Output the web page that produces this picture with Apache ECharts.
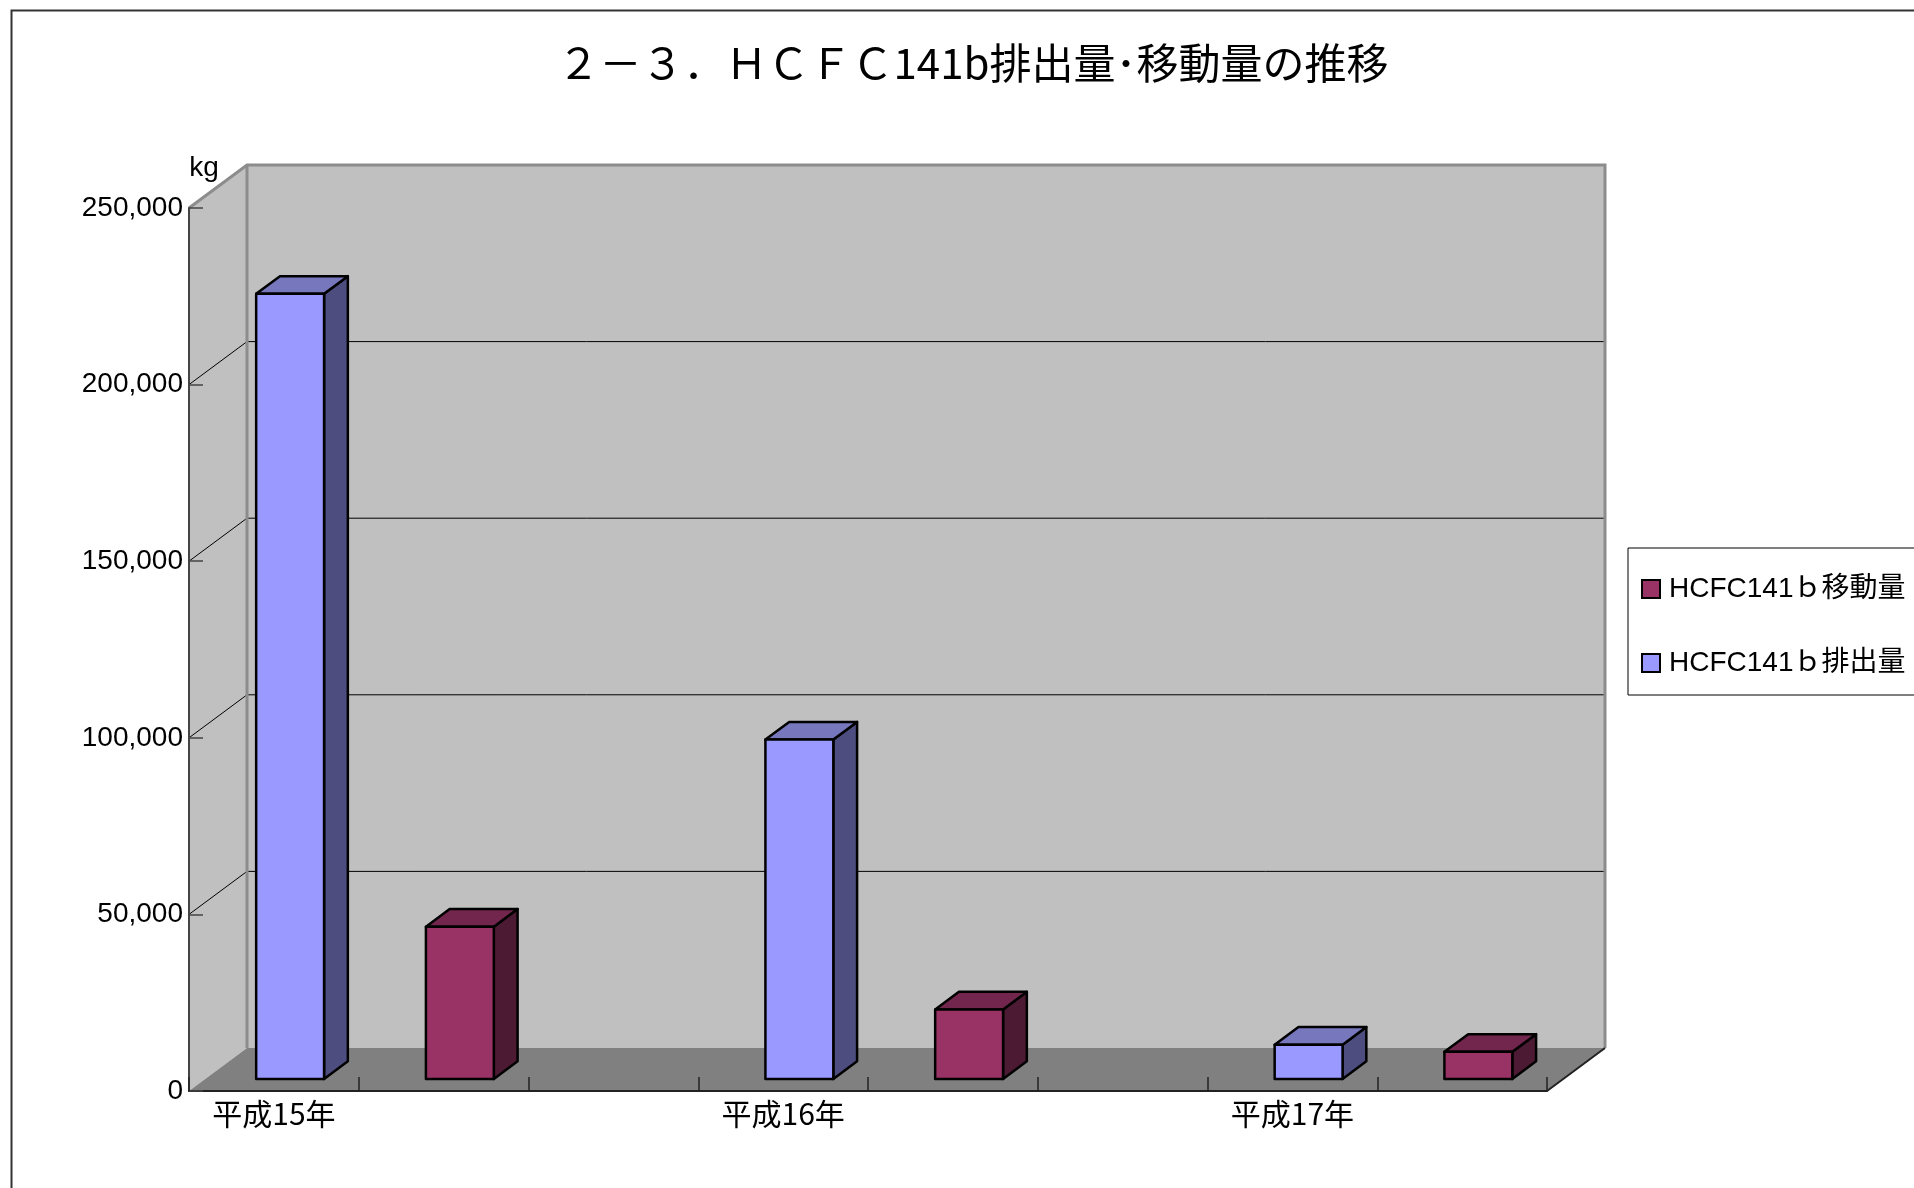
<!DOCTYPE html>
<html>
<head>
<meta charset="utf-8">
<script src="https://cdn.jsdelivr.net/npm/echarts@6/dist/echarts.min.js"></script>
<style>
html,body{margin:0;padding:0;background:#fff;}
#chart{width:1914px;height:1188px;}
</style>
</head>
<body>
<div id="chart"></div>
<script>
// ---- data ----
const titleText = '２－３．ＨＣＦＣ141b排出量･移動量の推移';
const years = ['平成15年', '平成16年', '平成17年'];
const emissionName = 'HCFC141ｂ排出量';
const transferName = 'HCFC141ｂ移動量';
const emission = [222300, 96100, 9700];
const transfer = [43100, 19700, 7700];
const yTicks = [0, 50000, 100000, 150000, 200000, 250000];
const unitLabel = 'kg';

// ---- category slots: year, transfer slot, gap ----
const slots = [];
const emissionData = [];
const transferData = [];
years.forEach(function (y, i) {
  emissionData.push([slots.length, emission[i]]);
  slots.push(y);
  transferData.push([slots.length, transfer[i]]);
  slots.push('');
  if (i < years.length - 1) slots.push('');
});

// ---- 3D geometry ----
const DX = 58, DY = -43;       // full depth offset
const F1 = 0.28, F2 = 0.69;    // bar front / back depth fraction
const BAR_W = 0.40;            // fraction of slot width

function wallsRender(params, api) {
  const cs = params.coordSys;
  const L = cs.x, R = cs.x + cs.width, T = cs.y, B = cs.y + cs.height;
  const children = [];
  children.push({ type: 'polygon', shape: { points: [[L, T], [L + DX, T + DY], [L + DX, B + DY], [L, B]] }, style: { fill: '#c0c0c0' } });
  children.push({ type: 'rect', shape: { x: L + DX, y: T + DY, width: R - L, height: B - T }, style: { fill: '#c0c0c0' } });
  children.push({ type: 'polygon', shape: { points: [[L, B], [L + DX, B + DY], [R + DX, B + DY], [R, B]] }, style: { fill: '#808080' } });
  yTicks.forEach(function (t, k) {
    if (k === 0 || k === yTicks.length - 1) return;
    const y = api.coord([0, t])[1];
    children.push({ type: 'line', shape: { x1: L + DX, y1: y + DY, x2: R + DX, y2: y + DY }, style: { stroke: '#000', lineWidth: 1 } });
    children.push({ type: 'line', shape: { x1: L, y1: y, x2: L + DX, y2: y + DY }, style: { stroke: '#000', lineWidth: 1 } });
  });
  // edges
  children.push({ type: 'polyline', shape: { points: [[L, T], [L + DX, T + DY], [R + DX, T + DY], [R + DX, B + DY]] }, style: { stroke: '#8c8c8c', lineWidth: 3, fill: null } });
  children.push({ type: 'line', shape: { x1: L + DX, y1: T + DY, x2: L + DX, y2: B + DY }, style: { stroke: '#8c8c8c', lineWidth: 3 } });
  children.push({ type: 'line', shape: { x1: R, y1: B, x2: R + DX, y2: B + DY }, style: { stroke: '#222', lineWidth: 2 } });
  return { type: 'group', children: children };
}

function makeBarRender(front, top, side) {
  return function (params, api) {
    const idx = api.value(0), v = api.value(1);
    const slotW = api.size([1, 0])[0];
    const w = slotW * BAR_W;
    const base = api.coord([idx, 0]);
    const tp = api.coord([idx, v]);
    const fx = base[0] - w / 2 + F1 * DX;
    const fy0 = base[1] + F1 * DY;
    const fy1 = tp[1] + F1 * DY;
    const bdx = (F2 - F1) * DX, bdy = (F2 - F1) * DY;
    const st = { stroke: '#000', lineWidth: 2.5, lineJoin: 'round' };
    return {
      type: 'group',
      children: [
        { type: 'polygon', shape: { points: [[fx + w, fy1], [fx + w + bdx, fy1 + bdy], [fx + w + bdx, fy0 + bdy], [fx + w, fy0]] }, style: Object.assign({ fill: side }, st) },
        { type: 'polygon', shape: { points: [[fx, fy1], [fx + bdx, fy1 + bdy], [fx + w + bdx, fy1 + bdy], [fx + w, fy1]] }, style: Object.assign({ fill: top }, st) },
        { type: 'rect', shape: { x: fx, y: fy1, width: w, height: fy0 - fy1 }, style: Object.assign({ fill: front }, st) }
      ]
    };
  };
}

const chart = echarts.init(document.getElementById('chart'), null, { renderer: 'canvas' });
chart.setOption({
  animation: false,
  backgroundColor: '#ffffff',
  grid: { left: 189, right: 367, top: 208, bottom: 97, containLabel: false },
  xAxis: {
    type: 'category',
    data: slots,
    z: 10,
    axisLine: { lineStyle: { color: '#222', width: 2 } },
    axisTick: { show: true, inside: true, length: 14, interval: 0, lineStyle: { color: '#222', width: 1.5 } },
    axisLabel: { interval: 0, margin: 8, color: '#000', fontSize: 30, fontFamily: 'Noto Sans CJK JP' },
    splitLine: { show: false }
  },
  yAxis: {
    type: 'value',
    min: yTicks[0],
    max: yTicks[yTicks.length - 1],
    interval: yTicks[1] - yTicks[0],
    z: 10,
    axisLine: { show: true, lineStyle: { color: '#444', width: 2 } },
    axisTick: { show: true, inside: true, length: 14, lineStyle: { color: '#444', width: 1.5 } },
    axisLabel: {
      margin: 6, color: '#000', fontSize: 28, fontFamily: 'Liberation Sans',
      formatter: function (v) { return String(v).replace(/\B(?=(\d{3})+(?!\d))/g, ','); }
    },
    splitLine: { show: false }
  },
  legend: {
    data: [transferName, emissionName],
    orient: 'vertical',
    left: 1628,
    top: 548,
    padding: [27, 12, 18, 13],
    itemGap: 46,
    itemWidth: 18,
    itemHeight: 18,
    icon: 'rect',
    borderColor: '#000',
    borderWidth: 1,
    backgroundColor: '#fff',
    itemStyle: { borderColor: '#000', borderWidth: 2 },
    textStyle: { fontSize: 28, color: '#000', fontFamily: '"Liberation Sans", "Noto Sans CJK JP"', padding: [0, 0, 0, 4] }
  },
  graphic: [
    { type: 'rect', left: 9, top: 8, shape: { width: 2000, height: 2000 }, style: { fill: null, stroke: '#333', lineWidth: 2 }, z: 100 },
    { type: 'text', x: 973, y: 63, style: { text: titleText, font: '42px "Noto Sans CJK JP"', fill: '#000', align: 'center', verticalAlign: 'middle' } },
    { type: 'text', x: 204, y: 168, style: { text: unitLabel, font: '28px "Liberation Sans"', fill: '#000', align: 'center', verticalAlign: 'middle' } }
  ],
  series: [
    { type: 'custom', name: 'walls', data: [[0, 0]], renderItem: wallsRender, clip: false, z: 1, silent: true },
    { type: 'custom', name: emissionName, data: emissionData, renderItem: makeBarRender('#9999ff', '#7777bd', '#4d4d80'), clip: false, z: 5, itemStyle: { color: '#9999ff' }, encode: { x: 0, y: 1 } },
    { type: 'custom', name: transferName, data: transferData, renderItem: makeBarRender('#993366', '#73264d', '#4d1a33'), clip: false, z: 5, itemStyle: { color: '#993366' }, encode: { x: 0, y: 1 } }
  ]
});
</script>
</body>
</html>
